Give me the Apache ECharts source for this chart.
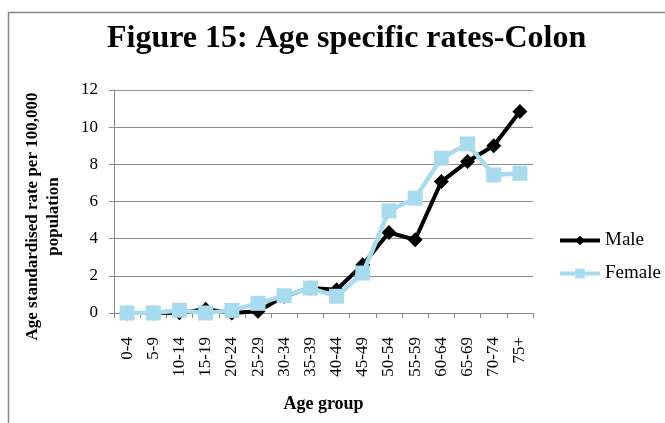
<!DOCTYPE html>
<html>
<head>
<meta charset="utf-8">
<script src="https://cdn.jsdelivr.net/npm/echarts@6/dist/echarts.min.js"></script>
<style>
html,body{margin:0;padding:0;background:#fff;}
#chart{width:665px;height:423px;}
</style>
</head>
<body>
<div id="chart"></div>
<script>
const categories = ['0-4','5-9','10-14','15-19','20-24','25-29','30-34','35-39','40-44','45-49','50-54','55-59','60-64','65-69','70-74','75+'];
const maleValues = [0, 0, 0.02, 0.2, 0, 0.1, 0.9, 1.35, 1.25, 2.6, 4.33, 3.94, 7.07, 8.15, 9.0, 10.84];
const femaleValues = [0, 0, 0.15, 0, 0.14, 0.52, 0.93, 1.34, 0.9, 2.15, 5.5, 6.18, 8.33, 9.1, 7.43, 7.52];
const yTicks = [0, 2, 4, 6, 8, 10, 12];

const serif = '"Liberation Serif", "Times New Roman", serif';
const chart = echarts.init(document.getElementById('chart'));
chart.setOption({
  animation: false,
  backgroundColor: '#fff',
  title: {
    text: 'Figure 15: Age specific rates-Colon',
    left: 102,
    top: 18,
    textStyle: {fontFamily: serif, fontWeight: 'bold', fontSize: 32, color: '#000'}
  },
  graphic: [{
    type: 'polyline',
    shape: {points: [[8.5, 430], [8.5, 12.5], [670, 12.5]]},
    style: {stroke: '#888', lineWidth: 1.5, fill: null},
    silent: true
  }],
  grid: {left: 114, right: 132, top: 90, bottom: 110},
  legend: {
    orient: 'vertical',
    left: 553,
    top: 226,
    itemWidth: 40,
    itemHeight: 12,
    itemGap: 14,
    textStyle: {fontFamily: serif, fontSize: 19, color: '#000'},
    data: [
      {name: 'Male', lineStyle: {width: 4}},
      {name: 'Female', lineStyle: {width: 4}}
    ]
  },
  xAxis: {
    type: 'category',
    data: categories,
    boundaryGap: true,
    name: 'Age group',
    nameLocation: 'middle',
    nameGap: 82,
    nameTextStyle: {fontFamily: serif, fontWeight: 'bold', fontSize: 18, color: '#000'},
    axisLine: {lineStyle: {color: '#888', width: 1}},
    axisTick: {show: true, alignWithLabel: false, length: 5, lineStyle: {color: '#888'}},
    axisLabel: {rotate: 90, margin: 24, fontFamily: serif, fontSize: 17, color: '#000', interval: 0}
  },
  yAxis: {
    type: 'value',
    min: 0,
    max: 12,
    interval: 2,
    name: 'Age standardised rate per 100,000\npopulation',
    nameLocation: 'middle',
    nameGap: 50,
    nameTextStyle: {fontFamily: serif, fontWeight: 'bold', fontSize: 17, color: '#000', lineHeight: 21, padding: [0, 30, 0, 0]},
    axisLine: {show: true, lineStyle: {color: '#888', width: 1}},
    axisTick: {show: true, length: 5, lineStyle: {color: '#888'}},
    axisLabel: {margin: 16, fontFamily: serif, fontSize: 17, color: '#000',
      formatter: v => yTicks.includes(v) ? String(v) : ''},
    splitLine: {lineStyle: {color: '#8c8c8c', width: 1}}
  },
  series: [
    {
      name: 'Male',
      type: 'line',
      data: maleValues,
      symbol: 'diamond',
      symbolSize: 15,
      lineStyle: {color: '#000', width: 4},
      itemStyle: {color: '#000'},
      z: 2
    },
    {
      name: 'Female',
      type: 'line',
      data: femaleValues,
      symbol: 'rect',
      symbolSize: 15,
      lineStyle: {color: '#a8dbee', width: 4.5},
      itemStyle: {color: '#a8dbee'},
      z: 3
    }
  ]
});
</script>
</body>
</html>
